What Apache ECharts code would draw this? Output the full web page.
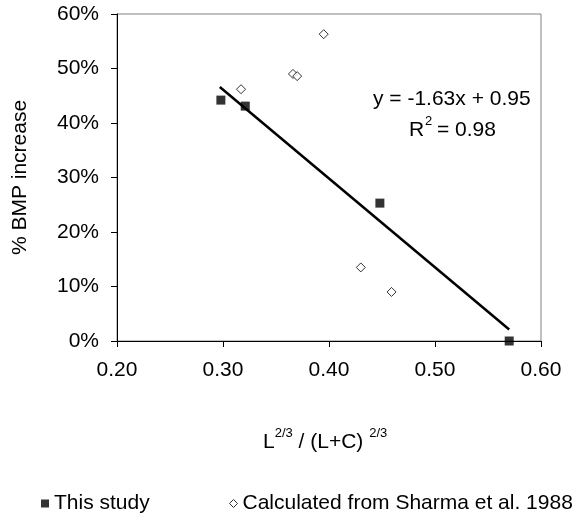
<!DOCTYPE html>
<html><head><meta charset="utf-8">
<script src="https://cdn.jsdelivr.net/npm/echarts@6/dist/echarts.min.js"></script>
<style>html,body{margin:0;padding:0;background:#fff}#c{width:578px;height:515px}</style>
</head><body><div id="c"></div>
<script>
const thisStudyX = [0.298, 0.321, 0.448, 0.570];
const thisStudyY = [0.442, 0.431, 0.253, 0.000];
const sharmaX = [0.395, 0.366, 0.370, 0.317, 0.430, 0.459];
const sharmaY = [0.563, 0.490, 0.486, 0.462, 0.135, 0.090];
const trendX = [0.297, 0.570];
const trendY = [0.466, 0.021];
const xTicks = ['0.20', '0.30', '0.40', '0.50', '0.60'];
const yTicks = ['0%', '10%', '20%', '30%', '40%', '50%', '60%'];
const seriesNames = ['This study', 'Calculated from Sharma et al. 1988'];

const FONT = 'Liberation Sans, Arial, sans-serif';
const FS = 21;
const SUP = 13;
const zip = (a, b) => a.map((v, i) => [v, b[i]]);

const legendBase = {bottom: 1, itemWidth: 8, itemHeight: 8, padding: 0, itemGap: 0,
  textStyle: {fontSize: FS, color: '#000', fontFamily: FONT}};

const chart = echarts.init(document.getElementById('c'), null, {renderer: 'canvas'});
chart.setOption({
  animation: false,
  backgroundColor: '#fff',
  textStyle: {fontFamily: FONT, color: '#000'},
  grid: {left: 117, right: 37, top: 14, bottom: 174, show: true, borderColor: '#808080', borderWidth: 1, backgroundColor: 'transparent'},
  xAxis: {
    type: 'value', min: 0.2, max: 0.6, interval: 0.1,
    axisLine: {show: true, onZero: false, lineStyle: {color: '#000', width: 1}},
    axisTick: {show: true, inside: false, length: 6, lineStyle: {color: '#000'}},
    splitLine: {show: false},
    axisLabel: {fontSize: FS, color: '#000', fontFamily: FONT, margin: 19,
      formatter: v => xTicks[Math.round((v - 0.2) / 0.1)]}
  },
  yAxis: {
    type: 'value', min: 0, max: 0.6, interval: 0.1,
    axisLine: {show: true, onZero: false, lineStyle: {color: '#000', width: 1}},
    axisTick: {show: true, inside: false, length: 6, lineStyle: {color: '#000'}},
    splitLine: {show: false},
    axisLabel: {fontSize: FS, color: '#000', fontFamily: FONT, margin: 18,
      formatter: v => yTicks[Math.round(v / 0.1)]},
    name: '% BMP increase', nameLocation: 'middle', nameRotate: 90, nameGap: 86,
    nameTextStyle: {fontSize: FS, color: '#000', fontFamily: FONT}
  },
  legend: [
    Object.assign({}, legendBase, {left: 41, data: [
      {name: seriesNames[0], icon: 'rect', itemStyle: {color: '#000'}}]}),
    Object.assign({}, legendBase, {left: 229, data: [
      {name: seriesNames[1], icon: 'diamond', itemStyle: {color: '#fff', borderColor: '#000', borderWidth: 1}}]})
  ],
  graphic: [
    {type: 'text', left: 263, top: 427, style: {
      text: '{n|L}{s|2/3}{n| / (L+C) }{s|2/3}', fontFamily: FONT,
      rich: {n: {fontSize: FS, fontFamily: FONT, fill: '#000', verticalAlign: 'bottom', lineHeight: 26},
             s: {fontSize: SUP, fontFamily: FONT, fill: '#000', verticalAlign: 'top', lineHeight: 26, padding: [0,0,10,0]}}
    }},
    {type: 'text', x: 373, y: 99, style: {text: 'y = -1.63x + 0.95', fontSize: FS, fontFamily: FONT, fill: '#000', verticalAlign: 'middle'}},
    {type: 'text', x: 409, y: 130, style: {text: 'R', fontSize: FS, fontFamily: FONT, fill: '#000', verticalAlign: 'middle'}},
    {type: 'text', x: 425, y: 121, style: {text: '2', fontSize: SUP, fontFamily: FONT, fill: '#000', verticalAlign: 'middle'}},
    {type: 'text', x: 437, y: 130, style: {text: '= 0.98', fontSize: FS, fontFamily: FONT, fill: '#000', verticalAlign: 'middle'}}
  ],
  series: [
    {name: seriesNames[0], type: 'scatter', symbol: 'rect', symbolSize: 9, z: 4,
     itemStyle: {color: '#000'}, data: zip(thisStudyX, thisStudyY)},
    {name: seriesNames[1], type: 'scatter', symbol: 'diamond', symbolSize: 9, z: 4,
     itemStyle: {color: '#fff', borderColor: '#000', borderWidth: 1}, data: zip(sharmaX, sharmaY)},
    {name: 'trend', type: 'line', showSymbol: false, symbol: 'none', z: 3,
     lineStyle: {color: '#000', width: 2.5}, data: zip(trendX, trendY)}
  ]
});
</script></body></html>
